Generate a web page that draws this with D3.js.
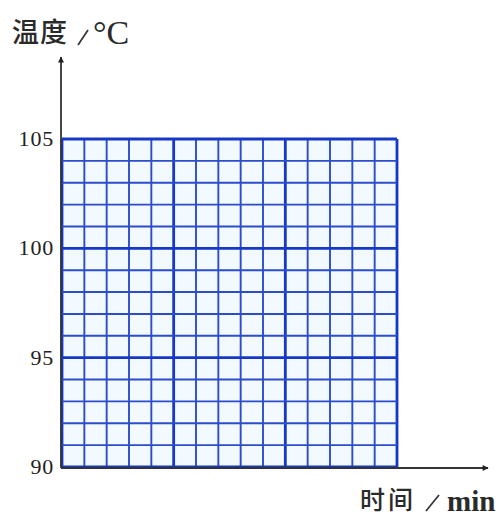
<!DOCTYPE html>
<html><head><meta charset="utf-8">
<script src="https://cdn.jsdelivr.net/npm/d3@7"></script>
<style>body{margin:0;background:#fff}svg{display:block}</style>
</head><body>
<script>
const yTicks = [90, 95, 100, 105];
const yDomain = [90, 105];
const xDomain = [0, 15];
const yLabelCn = "温度", yLabelUnit = "°C";
const xLabelCn = "时间", xLabelUnit = "min";

const W = 501, H = 516;
const svg = d3.select("body").append("svg").attr("width", W).attr("height", H);
const x = d3.scaleLinear().domain(xDomain).range([62, 397]);
const y = d3.scaleLinear().domain(yDomain).range([467, 139]);

svg.append("rect").attr("x", x(0)).attr("y", y(105)).attr("width", x(15) - x(0)).attr("height", y(90) - y(105)).attr("fill", "#f2f9ff");

const g = svg.append("g");
const xs = d3.range(xDomain[0], xDomain[1] + 1);
const ys = d3.range(yDomain[0], yDomain[1] + 1);
const strokeC = d => d % 5 === 0 ? "#1638c8" : "#2c4ccc";
const strokeW = d => d % 5 === 0 ? 2.8 : 1.9;
g.selectAll("line.v").data(xs).join("line").attr("class", "v")
  .attr("x1", d => x(d)).attr("x2", d => x(d)).attr("y1", y(105)).attr("y2", y(90))
  .attr("stroke", strokeC).attr("stroke-width", strokeW);
g.selectAll("line.h").data(ys).join("line").attr("class", "h")
  .attr("y1", d => y(d)).attr("y2", d => y(d)).attr("x1", x(0)).attr("x2", x(15))
  .attr("stroke", strokeC).attr("stroke-width", strokeW);

const defs = svg.append("defs");
defs.append("marker").attr("id", "arr").attr("viewBox", "0 0 10 10").attr("refX", 9).attr("refY", 5)
  .attr("markerWidth", 12).attr("markerHeight", 6).attr("markerUnits", "userSpaceOnUse").attr("orient", "auto")
  .append("path").attr("d", "M0,0 L10,5 L0,10 Z").attr("fill", "#222");

svg.append("line").attr("x1", 61).attr("y1", 468).attr("x2", 61).attr("y2", 57)
  .attr("stroke", "#333").attr("stroke-width", 1.8).attr("marker-end", "url(#arr)");
svg.append("line").attr("x1", 61).attr("y1", 468).attr("x2", 488).attr("y2", 468)
  .attr("stroke", "#333").attr("stroke-width", 1.8).attr("marker-end", "url(#arr)");

const yAxis = d3.axisLeft(y).tickValues(yTicks).tickSize(0).tickPadding(6).tickFormat(d3.format("d"));
const ya = svg.append("g").attr("transform", "translate(60,0)").call(yAxis);
ya.select(".domain").remove();
ya.selectAll("text").attr("font-family", "'Liberation Serif', serif").attr("font-size", 22)
  .attr("letter-spacing", 0.8).attr("fill", "#222").attr("dy", "0.3em");

function label(o) {
  svg.append("text").attr("x", o.cnX).attr("y", o.base).attr("fill", "#2a2a2a")
    .attr("font-family", "'Noto Sans CJK SC', sans-serif").attr("font-size", o.cnSize).attr("font-weight", 500)
    .attr("letter-spacing", o.ls).text(o.cn);
  svg.append("line").attr("x1", o.s[0]).attr("y1", o.s[1]).attr("x2", o.s[2]).attr("y2", o.s[3])
    .attr("stroke", "#333").attr("stroke-width", 1.7);
  svg.append("text").attr("x", o.unitX).attr("y", o.unitBase).attr("fill", "#2a2a2a")
    .attr("font-family", "'Liberation Serif', serif").attr("font-size", o.unitSize)
    .attr("font-weight", o.bold ? 700 : 400).text(o.unit);
}
label({cnX: 12, base: 42, cnSize: 27, ls: 1, cn: yLabelCn, s: [78, 45, 88, 30],
       unitX: 93, unitBase: 44, unitSize: 34, bold: false, unit: yLabelUnit});
label({cnX: 360, base: 509, cnSize: 25, ls: 3, cn: xLabelCn, s: [426, 511, 439, 495],
       unitX: 447, unitBase: 511, unitSize: 29, bold: true, unit: xLabelUnit});
</script>
</body></html>
